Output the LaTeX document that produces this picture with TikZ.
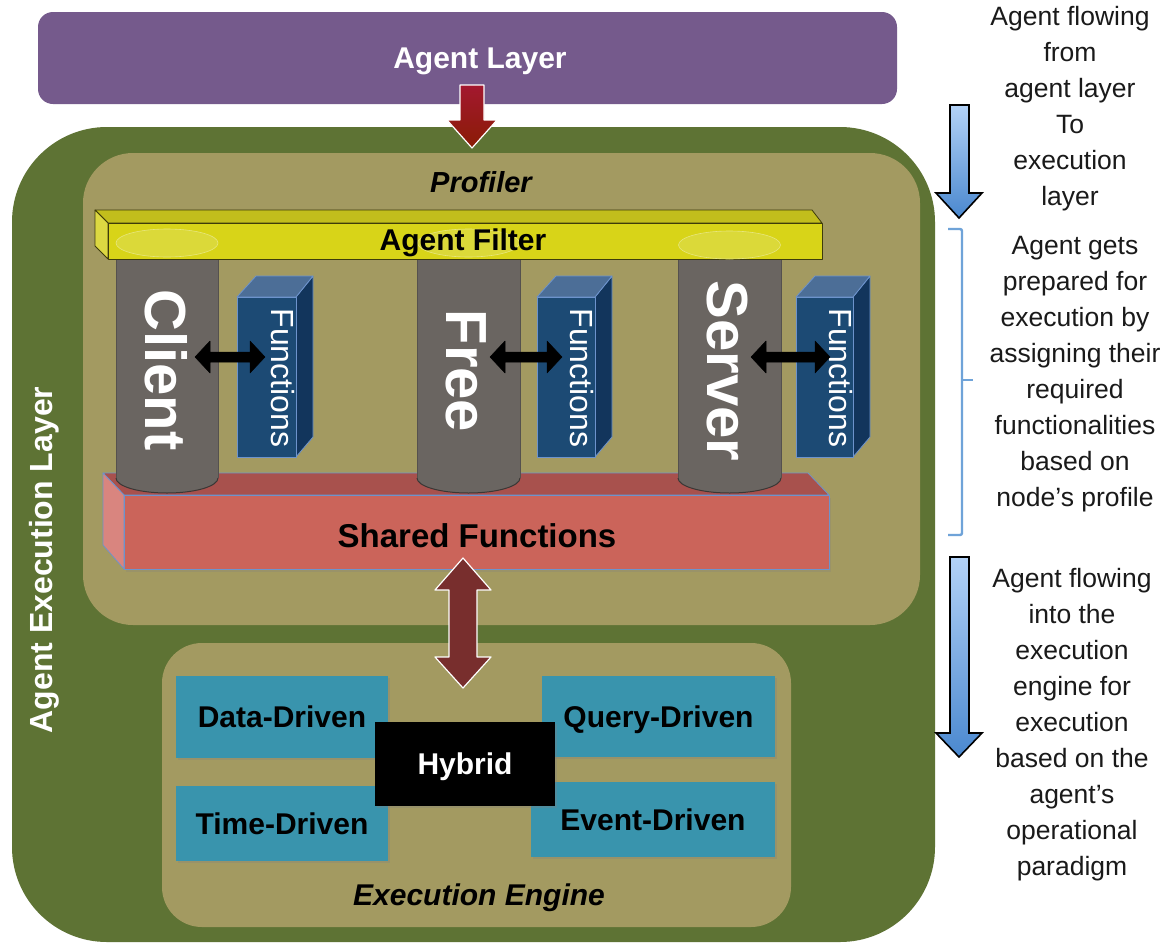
\documentclass[tikz,border=0pt]{standalone}
\usepackage{fontspec}
\setmainfont{Liberation Sans}
\usetikzlibrary{shadows}

\definecolor{layerpurple}{HTML}{755A8C}
\definecolor{execgreen}{HTML}{5E7334}
\definecolor{paneltan}{HTML}{A39A61}
\definecolor{filterfront}{HTML}{D8D418}
\definecolor{filtertop}{HTML}{C2BE1C}
\definecolor{filterside}{HTML}{DCD842}
\definecolor{filterline}{HTML}{3E3C0A}
\definecolor{capyellow}{HTML}{DDDB45}
\definecolor{sharedfront}{HTML}{CB645A}
\definecolor{sharedtop}{HTML}{A8514D}
\definecolor{sharedside}{HTML}{D9857F}
\definecolor{edgeblue}{HTML}{6D93CC}
\definecolor{funcfront}{HTML}{1C4A74}
\definecolor{functop}{HTML}{4C6E97}
\definecolor{funcside}{HTML}{12355C}
\definecolor{cylgray}{HTML}{6A6561}
\definecolor{cylline}{HTML}{3A3735}
\definecolor{modeteal}{HTML}{3994AD}
\definecolor{flowred}{HTML}{782E2D}
\definecolor{topredA}{HTML}{A3182F}
\definecolor{topredB}{HTML}{8A1C05}
\definecolor{bracketblue}{HTML}{6FA3D8}
\definecolor{arrowlight}{HTML}{B3D2F7}
\definecolor{arrowdark}{HTML}{4A88CF}
\definecolor{notetext}{HTML}{1A1A1A}

\begin{document}
\begin{tikzpicture}[x=1pt,y=-1pt,
  bigbold/.style={font=\fontsize{30}{36}\selectfont\bfseries},
  italbold/.style={font=\fontsize{29}{36}\selectfont\bfseries\itshape},
  pillar/.style={font=\fontsize{58}{60}\selectfont\bfseries, text=white, rotate=-90, inner sep=0pt},
  functext/.style={font=\fontsize{32}{36}\selectfont, text=white, rotate=-90, inner sep=0pt},
  modebox/.style={fill=modeteal, bigbold, text=black, inner sep=0pt, text depth=0pt,
    drop shadow={shadow xshift=2pt, shadow yshift=-2pt, opacity=0.3}},
  notestyle/.style={font=\fontsize{26.5}{36}\selectfont, text=notetext, align=center, inner sep=0pt},
  blockarrow/.style={draw=white, line width=1.2pt, line join=round},
  handarrow/.style={fill=black, draw=black, line width=0.5pt, line join=round},
  bluearrow/.style={draw=black, line width=1.6pt, line join=miter, top color=arrowlight, bottom color=arrowdark},
  faceline/.style={draw=filterline, line width=0.8pt, line join=round},
  redline/.style={draw=edgeblue, line width=0.8pt, line join=round},
  funcline/.style={draw=edgeblue, line width=0.8pt, line join=round}
]
\useasboundingbox (0,0) rectangle (1167,945);
\fill[white] (0,0) rectangle (1167,945);

% layers and panels
\fill[layerpurple, rounded corners=15pt] (38,12) rectangle (897,104);
\fill[execgreen, rounded corners=95pt] (12,127) rectangle (935,942);
\fill[paneltan, rounded corners=50pt] (83,153) rectangle (920,625);
\fill[paneltan, rounded corners=40pt] (162,643) rectangle (791,927);

% arrow from the agent layer into the execution layer
\path[blockarrow, top color=topredA, bottom color=topredB]
  (460,85) -- (484,85) -- (484,120) -- (497,120) -- (472,148) -- (447,120) -- (460,120) -- cycle;

% shared functions bar
\path[redline, fill=sharedtop] (103,473) -- (808,473) -- (829,495) -- (124,495) -- cycle;
\path[redline, fill=sharedside] (103,473) -- (124,495) -- (124,569) -- (103,545) -- cycle;
\path[redline, fill=sharedfront, drop shadow={shadow xshift=2pt, shadow yshift=-3pt, opacity=0.25}] (124,495) rectangle (829,569);

% profile pillars
\foreach \xa/\xb/\yt in {116/218/243, 417/520/243, 678/781/245} {
  \pgfmathsetmacro\xm{(\xa+\xb)/2}
  \pgfmathsetmacro\rx{(\xb-\xa)/2}
  \fill[cylgray] (\xa,\yt) -- (\xa,478)
    .. controls (\xa,486.3) and ({\xm-0.5523*\rx},493) .. (\xm,493)
    .. controls ({\xm+0.5523*\rx},493) and (\xb,486.3) .. (\xb,478) -- (\xb,\yt) -- cycle;
  \draw[cylline, line width=1pt] (\xa,478)
    .. controls (\xa,486.3) and ({\xm-0.5523*\rx},493) .. (\xm,493)
    .. controls ({\xm+0.5523*\rx},493) and (\xb,486.3) .. (\xb,478);
  \draw[cylgray!80!black, line width=0.5pt] (\xa,\yt) -- (\xa,478) (\xb,\yt) -- (\xb,478);
}

% agent filter bar
\path[faceline, fill=filtertop] (95,210) -- (812,210) -- (822,223) -- (108,223) -- cycle;
\path[faceline, fill=filterside] (95,210) -- (108,223) -- (108,259) -- (95,246) -- cycle;
\path[faceline, fill=filterfront] (108,223) rectangle (822,259);

% pillar caps seen through the filter
\foreach \xc/\yc in {167/243, 468.5/243, 729.5/245} {
  \path[fill=capyellow, fill opacity=0.75, draw=capyellow!70!white, line width=0.6pt]
    (\xc,\yc) ellipse [x radius=51, y radius=14];
}

\node[bigbold, text=black] (filter) at (463,243) {Agent Filter};

% function blocks attached to each pillar
\foreach \xl/\xr in {237/296, 537/595, 796/853} {
  \path[funcline, fill=funcside] (\xr,297) -- ({\xr+17},276) -- ({\xr+17},437) -- (\xr,457) -- cycle;
  \path[funcline, fill=functop] (\xl,297) -- ({\xl+19},276) -- ({\xr+17},276) -- (\xr,297) -- cycle;
  \path[funcline, fill=funcfront] (\xl,297) rectangle (\xr,457);
}

\node[pillar] (client) at (166,370) {Client};
\node[pillar] (free) at (466,371) {Free};
\node[pillar] (server) at (727,371) {Server};

\node[functext] (funcA) at (282.5,378) {Functions};
\node[functext] (funcB) at (581.5,378) {Functions};
\node[functext] (funcC) at (840.5,378) {Functions};

% two-way links between pillars and their functions
\foreach \xa/\xb in {195/265, 490/562, 751/830} {
  \path[handarrow] (\xa,357) -- ({\xa+15},341) -- ({\xa+15},352) -- ({\xb-15},352) -- ({\xb-15},341)
    -- (\xb,357) -- ({\xb-15},373) -- ({\xb-15},362) -- ({\xa+15},362) -- ({\xa+15},373) -- cycle;
}

\node[bigbold, font=\fontsize{33}{36}\selectfont\bfseries, text=black] (shared) at (477,536) {Shared Functions};

% two-way flow between profiler and execution engine
\path[blockarrow, fill=flowred]
  (463,558) -- (491,590) -- (477,590) -- (477,657) -- (491,657) -- (463,688)
  -- (435,657) -- (449,657) -- (449,590) -- (435,590) -- cycle;

% execution paradigms
\node[modebox, minimum width=212pt, minimum height=82pt] (datad) at (282,717) {Data-Driven};
\node[modebox, minimum width=233pt, minimum height=81pt] (queryd) at (658.5,716.5) {Query-Driven};
\node[modebox, minimum width=212pt, minimum height=75pt] (timed) at (282,823.5) {Time-Driven};
\node[modebox, minimum width=244pt, minimum height=75pt] (eventd) at (653,819.5) {Event-Driven};
\node[modebox, fill=black, text=white, minimum width=180pt, minimum height=84pt] (hybrid) at (465,764) {Hybrid};

\node[italbold, text=black] (profiler) at (481,182) {Profiler};
\node[italbold, font=\fontsize{30}{36}\selectfont\bfseries\itshape, text=black] (engine) at (479,898) {Execution Engine};
\node[bigbold, text=white] (agentlayer) at (480,61) {Agent Layer};
\node[bigbold, font=\fontsize{32}{36}\selectfont\bfseries, text=white, rotate=90, inner sep=0pt] (execlayer) at (44.5,560) {Agent Execution Layer};

% flow notes on the right
\path[bluearrow] (950,105) -- (969,105) -- (969,193) -- (982,193) -- (959,218) -- (936,193) -- (950,193) -- cycle;
\path[bluearrow] (950,557) -- (969,557) -- (969,733) -- (982,733) -- (959,757) -- (936,733) -- (950,733) -- cycle;
\draw[bracketblue, line width=2.4pt, rounded corners=2pt] (948,229) -- (962,229) -- (962,535) -- (948,535);
\draw[bracketblue, line width=2.4pt] (962,380) -- (973,380);

\node[notestyle] (note1) at (1070,109) {Agent flowing\\from\\agent layer\\To\\execution\\layer};
\node[notestyle] (note2) at (1075,374) {Agent gets\\prepared for\\execution by\\assigning their\\required\\functionalities\\based on\\node’s profile};
\node[notestyle] (note3) at (1072,725) {Agent flowing\\into the\\execution\\engine for\\execution\\based on the\\agent’s\\operational\\paradigm};
\end{tikzpicture}
\end{document}
